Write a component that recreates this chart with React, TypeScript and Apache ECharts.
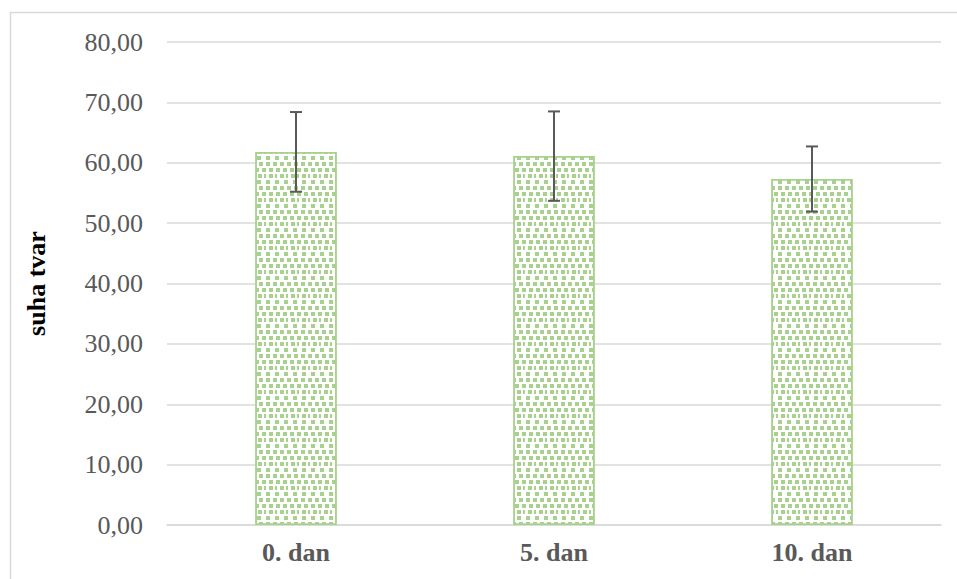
import React, { useEffect, useRef } from "react";
import * as echarts from "echarts";

const categories = ["0. dan", "5. dan", "10. dan"];
const means = [61.8, 61.1, 57.3];
const errors = [6.6, 7.4, 5.4];
const yTicks = { min: 0, max: 80, interval: 10 };

export default function App() {
  const ref = useRef<HTMLDivElement>(null);
  useEffect(() => {
    const chart = echarts.init(ref.current!, null, { renderer: "svg" });
    const errData = categories.map((c, i) => [i, means[i] - errors[i], means[i] + errors[i]]);
    chart.setOption({
      animation: false,
      backgroundColor: "#ffffff",
      graphic: [
        {
          type: "rect",
          shape: { x: 10.5, y: 12.5, width: 1000, height: 1000 },
          style: { fill: "none", stroke: "#d9d9d9", lineWidth: 1.5 },
          silent: true,
        },
      ],
      grid: { left: 167, right: 16, top: 42, bottom: 54 },
      xAxis: {
        type: "category",
        data: categories,
        axisLine: { show: true, lineStyle: { color: "#d9d9d9", width: 1.5 } },
        axisTick: { show: false },
        axisLabel: {
          color: "#595959",
          fontFamily: "Liberation Serif",
          fontWeight: "bold",
          fontSize: 26,
          margin: 14,
        },
      },
      yAxis: {
        type: "value",
        min: yTicks.min,
        max: yTicks.max,
        interval: yTicks.interval,
        name: "suha tvar",
        nameLocation: "middle",
        nameGap: 118,
        nameTextStyle: {
          color: "#000000",
          fontFamily: "Liberation Serif",
          fontWeight: "bold",
          fontSize: 26,
        },
        axisLine: { show: false },
        axisTick: { show: false },
        splitLine: { lineStyle: { color: "#d9d9d9", width: 1.5 } },
        axisLabel: {
          color: "#595959",
          fontFamily: "Liberation Serif",
          fontSize: 26,
          margin: 24,
          formatter: (v: number) => v.toFixed(2).replace(".", ","),
        },
      },
      series: [
        {
          type: "bar",
          data: means,
          barWidth: "31.5%",
          itemStyle: {
            color: "#ffffff",
            borderColor: "#a9d18e",
            borderWidth: 1.5,
            decal: {
              symbol: "rect",
              symbolSize: 1,
              color: "#a9d18e",
              dashArrayX: [[4, 3], [0, 3, 4, 0], [2, 3, 4, 2], [0, 5, 4, 0]],
              dashArrayY: [4, 2],
              rotation: 0,
            },
          },
        },
        {
          type: "custom",
          data: errData,
          z: 10,
          renderItem: (params: any, api: any) => {
            const x = api.value(0);
            const lo = api.coord([x, api.value(1)]);
            const hi = api.coord([x, api.value(2)]);
            const hw = 6;
            const style = { stroke: "#595959", lineWidth: 2 };
            return {
              type: "group",
              children: [
                { type: "line", shape: { x1: hi[0], y1: hi[1], x2: lo[0], y2: lo[1] }, style },
                { type: "line", shape: { x1: hi[0] - hw, y1: hi[1], x2: hi[0] + hw, y2: hi[1] }, style },
                { type: "line", shape: { x1: lo[0] - hw, y1: lo[1], x2: lo[0] + hw, y2: lo[1] }, style },
              ],
            };
          },
        },
      ],
    });
    return () => chart.dispose();
  }, []);
  return (
    <div
      ref={ref}
      style={{ position: "fixed", left: 0, top: 0, width: 957, height: 579 }}
    />
  );
}
